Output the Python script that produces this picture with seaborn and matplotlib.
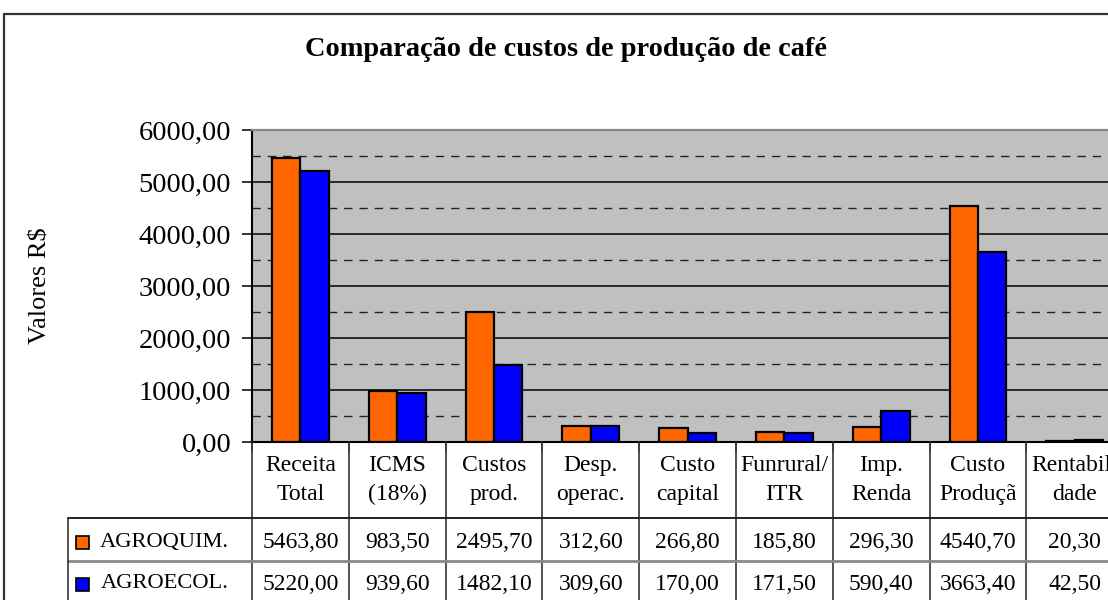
import matplotlib
matplotlib.use("Agg")
import matplotlib.pyplot as plt
import matplotlib.transforms as mtransforms
from matplotlib.lines import Line2D
from matplotlib.patches import Rectangle
from matplotlib.ticker import FuncFormatter, MultipleLocator
import numpy as np
import pandas as pd
import seaborn as sns

# Cost categories (table header labels, as shown in the cells)
categorias = ["Receita\nTotal", "ICMS\n(18%)", "Custos\nprod.", "Desp.\noperac.",
              "Custo\ncapital", "Funrural/\nITR", "Imp.\nRenda", "Custo\nProduçã",
              "Rentabili\ndade"]
sistemas = ["AGROQUIM.", "AGROECOL."]
agroquim = [5463.80, 983.50, 2495.70, 312.60, 266.80, 185.80, 296.30, 4540.70, 20.30]
agroecol = [5220.00, 939.60, 1482.10, 309.60, 170.00, 171.50, 590.40, 3663.40, 42.50]
cores = ["#FF6600", "#0000FF"]

df = pd.DataFrame({
    "categoria": categorias * 2,
    "sistema": [sistemas[0]] * len(categorias) + [sistemas[1]] * len(categorias),
    "valor": agroquim + agroecol,
})

def br(v):
    return f"{v:.2f}".replace(".", ",")

sns.set_theme(style="white")
plt.rcParams["font.family"] = ["Liberation Serif", "DejaVu Serif"]
plt.rcParams["text.color"] = "black"
plt.rcParams["axes.labelcolor"] = "black"

W, H = 1108, 600
fig = plt.figure(figsize=(W / 100, H / 100), dpi=100)
fig.patch.set_facecolor("white")

def fx(px):
    return px / W

def fy(py):
    return 1 - py / H

# Plot area: extends past the right edge of the canvas
ax_left, ax_top, ax_bottom = 252, 130, 442
cat_w = 96.8
ax = fig.add_axes([fx(ax_left), fy(ax_bottom), (9 * cat_w) / W, (ax_bottom - ax_top) / H])
ax.set_facecolor("#C0C0C0")

sns.barplot(data=df, x="categoria", y="valor", hue="sistema", palette=cores,
            order=categorias, hue_order=sistemas, width=0.585, saturation=1,
            edgecolor="black", linewidth=1.6, ax=ax, legend=False)

ax.set_xlim(-0.5, len(categorias) - 0.5)
ax.set_ylim(0, 6000)
ax.set_xlabel("")
ax.set_ylabel("")
ax.set_axisbelow(True)

ax.yaxis.set_major_locator(MultipleLocator(1000))
ax.yaxis.set_minor_locator(MultipleLocator(500))
ax.yaxis.set_major_formatter(FuncFormatter(lambda v, p: br(v)))
ax.yaxis.grid(True, which="major", color="black", linewidth=1.1)
ax.yaxis.grid(True, which="minor", color="#222222", linewidth=1.0, linestyle=(0, (6, 5)))
ax.tick_params(axis="y", which="major", length=7, width=1.1, color="black",
               labelsize=20.5, pad=8, labelcolor="black", left=True)
ax.tick_params(axis="y", which="minor", length=0)
ax.set_xticks(np.arange(-0.5, len(categorias), 1.0))
ax.set_xticklabels([])
ax.tick_params(axis="x", length=7, width=1.1, color="#444444", bottom=True)

for side in ["left", "bottom"]:
    ax.spines[side].set_color("black")
    ax.spines[side].set_linewidth(1.5)
ax.spines["top"].set_color("#8A8A8A")
ax.spines["top"].set_linewidth(1.6)
ax.spines["right"].set_visible(False)

# Title and axis label
fig.text(fx(566), fy(49), "Comparação de custos de produção de café",
         ha="center", va="center", fontsize=20.4, fontweight="bold", color="black")
fig.text(fx(41), fy(286), "Valores R$", rotation=90, ha="center", va="center",
         fontsize=19, color="black")

# Outer chart border
fig.add_artist(Line2D([fx(4), fx(4), fx(W + 5)], [fy(H + 5), fy(14), fy(14)],
                      transform=fig.transFigure, color="#333333", linewidth=1.6))

# Data table under the plot
bt = mtransforms.blended_transform_factory(ax.transData, fig.transFigure)
for b in np.arange(-0.5, len(categorias), 1.0):
    fig.add_artist(Line2D([b, b], [fy(ax_bottom), fy(H + 5)], transform=bt,
                          color="#333333", linewidth=1.2))
fig.add_artist(Line2D([fx(68), fx(W + 5)], [fy(518), fy(518)],
                      transform=fig.transFigure, color="#222222", linewidth=1.4))
fig.add_artist(Line2D([fx(68), fx(W + 5)], [fy(561), fy(561)],
                      transform=fig.transFigure, color="#8A8A8A", linewidth=2.0))
fig.add_artist(Line2D([fx(68), fx(68)], [fy(518), fy(H + 5)],
                      transform=fig.transFigure, color="#333333", linewidth=1.2))

for i, cat in enumerate(categorias):
    fig.text(i, fy(480), cat, transform=bt, ha="center", va="center",
             fontsize=17, linespacing=1.52, color="black")
    fig.text(i, fy(542), br(agroquim[i]), transform=bt, ha="center", va="center",
             fontsize=17, color="black")
    fig.text(i, fy(584), br(agroecol[i]), transform=bt, ha="center", va="center",
             fontsize=17, color="black")

for nome, cor, yc in zip(sistemas, cores, [542, 584]):
    fig.add_artist(Rectangle((fx(76), fy(yc + 7)), 13 / W, 13 / H,
                             transform=fig.transFigure, facecolor=cor,
                             edgecolor="black", linewidth=1.2))
    fig.text(fx(229), fy(yc), nome, ha="right", va="center", fontsize=16.2,
             color="black")

fig.savefig("out.png", dpi=100)
